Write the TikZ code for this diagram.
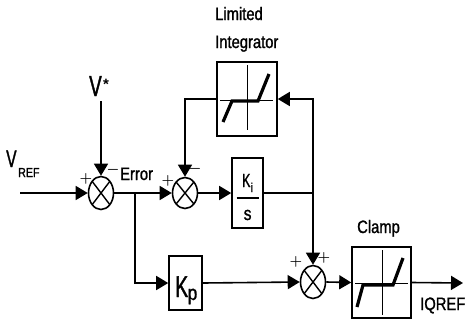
\documentclass[tikz,border=0pt]{standalone}
\usepackage{fontspec}
\setmainfont{Liberation Sans}
\newfontfamily\nar[FakeStretch=0.82,FakeBold=1.2]{Liberation Sans}
\newfontfamily\narv[FakeStretch=0.65,FakeBold=1.2]{Liberation Sans}
\usetikzlibrary{shapes.geometric,arrows.meta,calc}
\tikzset{
  wire/.style={line width=1.6pt},
  arr/.style={wire,-{Triangle[length=12pt,width=14pt]}},
  blk/.style={draw,line width=1.6pt,inner sep=0pt,rectangle},
  sumj/.style={draw,ellipse,line width=1.6pt,inner sep=0pt,minimum width=25pt,minimum height=33pt,
    path picture={\draw[line width=1.4pt] (path picture bounding box.north west)--(path picture bounding box.south east)
      (path picture bounding box.north east)--(path picture bounding box.south west);}},
  lbl/.style={inner sep=0pt,anchor=base west,font=\nar\fontsize{18}{20}\selectfont},
  sgn/.style={inner sep=0pt,font=\boldmath\fontsize{15}{15}\selectfont},
  sat/.style={line width=3.2pt},
  axisln/.style={line width=1pt}
}
\begin{document}
\begin{tikzpicture}[x=1pt,y=-1pt]
\path[use as bounding box] (0,0) rectangle (465,322);
% summing junctions
\node[sumj] (s1) at (101,193) {};
\node[sumj,minimum height=31pt,minimum width=25pt] (s2) at (185,193) {};
\node[sumj,minimum height=33pt] (s3) at (313,282) {};
% blocks
\node[blk,minimum width=60pt,minimum height=74pt] (intg) at (247,99) {};
\node[blk,minimum width=31pt,minimum height=70pt] (kis) at (247.5,193) {};
\node[blk,minimum width=33pt,minimum height=54pt] (kp) at (185.5,283) {};
\node[blk,minimum width=59pt,minimum height=71pt] (clamp) at (381.5,282.5) {};
% texts
\node[lbl] (tlim) at (215,20) {Limited};
\node[lbl] (tint) at (215,48) {Integrator};
\node[lbl] (tclamp) at (357,233) {Clamp};
\node[lbl] (terr) at (120,180) {Error};
\node[lbl] (tiq) at (420,310) {IQREF};
\node[inner sep=0pt,anchor=base west,font=\narv\fontsize{24}{24}\selectfont] (tvr) at (6,167) {V};
\node[inner sep=0pt,anchor=base west,font=\nar\fontsize{13}{13}\selectfont] (tvrs) at (18,177) {REF};
\node[inner sep=0pt,anchor=base west,font=\narv\fontsize{29}{29}\selectfont] (tvs) at (89,96) {V};
\node[inner sep=0pt,anchor=base,font=\bfseries\fontsize{15}{15}\selectfont] (tvst) at (106,89) {*};
\node[inner sep=0pt,anchor=base west,font=\narv\fontsize{19}{19}\selectfont] (tkiK) at (242,187) {K};
\node[inner sep=0pt,anchor=base west,font=\nar\fontsize{13}{13}\selectfont] (tkii) at (250.5,192) {i};
\node[inner sep=0pt,anchor=base west,font=\nar\fontsize{19}{19}\selectfont] (tkis) at (243.5,220) {s};
\draw[line width=1.3pt] ($(kis.center)+(-11,5)$) -- ($(kis.center)+(11,5)$);
\node[inner sep=0pt,anchor=base west,font=\narv\fontsize{30}{30}\selectfont] (tkpK) at (175,297) {K};
\node[inner sep=0pt,anchor=base west,font=\nar\fontsize{21}{21}\selectfont] (tkpp) at (187.5,300) {p};
% signs
\node[sgn] (p1) at (86,179) {$+$};
\node[sgn] (m1) at (113,170) {$-$};
\node[sgn] (p2) at (168,181) {$+$};
\node[sgn] (m2) at (195,169) {$-$};
\node[sgn] (p3) at (296,262) {$+$};
\node[sgn] (p4) at (324,258) {$+$};
% saturation graphics
\begin{scope}[shift={(intg.center)}]
  \draw[axisln] (-27,1)--(26,1);
  \draw[axisln] (0,-34)--(0,31);
  \draw[sat] (-24,23)--(-15,2)--(11,2)--(22,-25);
\end{scope}
\begin{scope}[shift={(clamp.center)}]
  \draw[axisln] (-26.5,0.5)--(26.5,0.5);
  \draw[axisln] (0.5,-32.5)--(0.5,32.5);
  \draw[sat] (-24.5,24.5)--(-18.5,2.5)--(11.5,2.5)--(21.5,-24.5);
\end{scope}
% connectors
\coordinate (vin) at (20,193);
\coordinate (vs) at (101,101);
\coordinate (br) at (135,193);
\coordinate (jn) at (313,193);
\coordinate (vout) at (463,283);
\draw[arr] (vin) -- (s1.west);
\draw[arr] (vs) -- (s1.north);
\draw[arr] (s1.east) -- (s2.west);
\draw[arr] (br) |- (kp.west);
\draw[arr] (intg.west) -| (s2.north);
\draw[arr] (s2.east) -- (kis.west);
\draw[wire] (kis.east) -- (jn);
\draw[arr] (jn) -- (s3.north);
\draw[arr] (jn) |- (intg.east);
\draw[arr] (kp.east) -- (s3.west);
\draw[arr] (s3.east) -- (clamp.west);
\draw[arr] (clamp.east) -- (vout);
\end{tikzpicture}
\end{document}
